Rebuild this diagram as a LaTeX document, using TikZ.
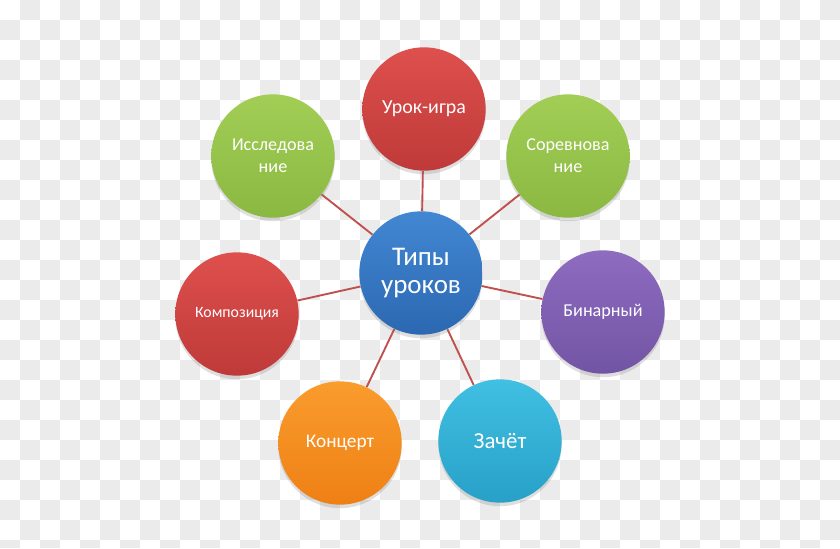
\documentclass[tikz,border=0pt]{standalone}
\usepackage{fontspec}
\setmainfont{Carlito}
\usetikzlibrary{shadows,backgrounds}

\definecolor{boardgray}{HTML}{EBEBEB}
\definecolor{linkred}{HTML}{C0504D}

\begin{document}
\begin{tikzpicture}[
		x=0.03cm, y=-0.03cm,
		% Styling for the round topic bubbles
		bubble/.style={circle, inner sep=0pt, minimum size=3.7cm, text=white, align=center,
			drop shadow={opacity=0.25, shadow xshift=0pt, shadow yshift=-3pt}},
		hubstyle/.style={bubble, font=\fontsize{23}{26}\selectfont},
		% Connector look
		linkstyle/.style={linkred, line width=1.6pt}
		]
		
		% =========================================================================
		% BUBBLES
		% =========================================================================
		\useasboundingbox (0,0) rectangle (840,548);
		\node[hubstyle, top color={rgb,255:red,66;green,135;blue,210}, bottom color={rgb,255:red,44;green,104;blue,178}] (hub) at (421,273) {Типы\\[-2pt]уроков};
		
		\node[bubble, font=\fontsize{17}{20}\selectfont, top color={rgb,255:red,222;green,80;blue,78}, bottom color={rgb,255:red,190;green,58;blue,56}] (game) at (424,109) {Урок-игра};
		\node[bubble, font=\fontsize{15.5}{19}\selectfont, top color={rgb,255:red,162;green,206;blue,86}, bottom color={rgb,255:red,138;green,184;blue,64}] (research) at (273,156) {Исследова\\ние};
		\node[bubble, font=\fontsize{15.5}{19}\selectfont, top color={rgb,255:red,162;green,206;blue,86}, bottom color={rgb,255:red,138;green,184;blue,64}] (contest) at (568,156) {Соревнова\\ние};
		\node[bubble, font=\fontsize{15.5}{18}\selectfont, top color={rgb,255:red,142;green,108;blue,192}, bottom color={rgb,255:red,114;green,84;blue,164}] (binary) at (603,312) {Бинарный};
		\node[bubble, font=\fontsize{19.5}{22}\selectfont, top color={rgb,255:red,64;green,192;blue,226}, bottom color={rgb,255:red,40;green,160;blue,200}] (exam) at (500,441) {Зачёт};
		\node[bubble, font=\fontsize{16.5}{19}\selectfont, top color={rgb,255:red,250;green,156;blue,46}, bottom color={rgb,255:red,238;green,128;blue,20}] (concert) at (340,443) {Концерт};
		\node[bubble, font=\fontsize{13.5}{16}\selectfont, top color={rgb,255:red,222;green,80;blue,78}, bottom color={rgb,255:red,190;green,58;blue,56}] (compose) at (237,314) {Композиция};
		
		% =========================================================================
		% BACKGROUND: checker board, then connectors behind the bubbles
		% =========================================================================
		\begin{scope}[on background layer]
			\fill[white] (0,0) rectangle (840,548);
			\foreach \i in {0,...,41}
			\foreach \j in {0,...,27}
			{
				\pgfmathtruncatemacro{\odd}{mod(\i+\j,2)}
				\ifnum\odd=1
				\fill[boardgray] (20*\i,20*\j) rectangle (20*\i+20,{min(20*\j+20,548)});
				\fi
			}
			\foreach \n in {game,research,contest,binary,exam,concert,compose}
			\draw[linkstyle] (hub) -- (\n);
		\end{scope}
		
	\end{tikzpicture}
\end{document}
